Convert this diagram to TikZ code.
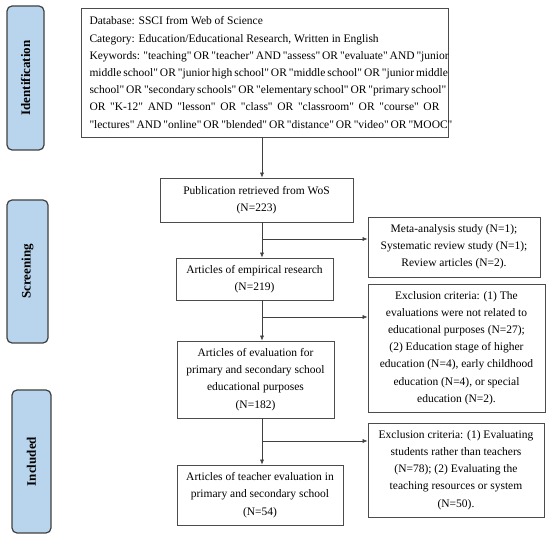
\documentclass[tikz,border=0pt]{standalone}
\usepackage{fontspec}
\setmainfont{Liberation Serif}[Ligatures=TeXOff]
\usetikzlibrary{positioning,arrows.meta}
\definecolor{stageblue}{RGB}{184,213,237}
\newcommand{\jline}[1]{\makebox[350pt][s]{#1}}

\begin{document}
\begin{tikzpicture}[x=1pt, y=-1pt,
    box/.style={draw=black!70, line width=0.7pt, align=center, inner sep=0pt,
        font=\fontsize{11.5}{17.2}\selectfont},
    stage/.style={draw=black!75, line width=1.2pt, fill=stageblue, rounded corners=5pt,
        rotate=90, font=\fontsize{13}{15}\selectfont\bfseries},
    arr/.style={-{Latex[length=5pt,width=4pt]}, draw=black!75, line width=0.6pt}]
    \useasboundingbox (0,0) rectangle (550,540);

    % stages
    \node [stage, minimum width=144pt, minimum height=37pt] (ident) at (25.5,78) {Identification};
    \node [stage, minimum width=143pt, minimum height=41pt] (screen) at (27.5,271.5) {Screening};
    \node [stage, minimum width=143pt, minimum height=39pt] (incl) at (31.5,461.5) {Included};

    % main column
    \node [box, align=left, minimum width=367pt, minimum height=129pt] (search) at (264.5,72.5) {%
        Database: SSCI from Web of Science\\
        Category: Education/Educational Research, Written in English\\
        \jline{Keywords: "teaching" OR "teacher" AND "assess" OR "evaluate" AND "junior}\\
        \jline{middle school" OR "junior high school" OR "middle school" OR "junior middle}\\
        \jline{school" OR "secondary schools" OR "elementary school" OR "primary school"}\\
        \jline{OR "K-12" AND "lesson" OR "class" OR "classroom" OR "course" OR}\\
        \jline{"lectures" AND "online" OR "blended" OR "distance" OR "video" OR "MOOC"}};
    \node [box, minimum width=193pt, minimum height=44pt] (pub) at (256.5,200) {Publication retrieved from WoS\\(N=223)};
    \node [box, minimum width=157pt, minimum height=42pt] (emp) at (254.5,279) {Articles of empirical research\\(N=219)};
    \node [box, minimum width=157pt, minimum height=77pt] (eval) at (255.5,379.5) {Articles of evaluation for\\primary and secondary school\\educational purposes\\(N=182)};
    \node [box, minimum width=166pt, minimum height=60pt] (final) at (260,495) {Articles of teacher evaluation in\\primary and secondary school\\(N=54)};

    % exclusions
    \node [box, minimum width=172pt, minimum height=60pt] (meta) at (454,247) {Meta-analysis study (N=1);\\Systematic review study (N=1);\\Review articles (N=2).};
    \node [box, minimum width=177pt, minimum height=128pt] (excl1) at (456.5,348) {Exclusion criteria: (1) The\\evaluations were not related to\\educational purposes (N=27);\\(2) Education stage of higher\\education (N=4), early childhood\\education (N=4), or special\\education (N=2).};
    \node [box, minimum width=176pt, minimum height=94pt] (excl2) at (456,470) {Exclusion criteria: (1) Evaluating\\students rather than teachers\\(N=78); (2) Evaluating the\\teaching resources or system\\(N=50).};

    % arrows
    \coordinate (spine) at (262,0);
    \coordinate (b1) at (262,239);
    \coordinate (b2) at (262,317);
    \coordinate (b3) at (262,441);
    \draw [arr] (search.south -| spine) -- (pub.north -| spine);
    \draw [arr] (pub.south -| spine) -- (emp.north -| spine);
    \draw [arr] (emp.south -| spine) -- (eval.north -| spine);
    \draw [arr] (eval.south -| spine) -- (final.north -| spine);
    \draw [arr] (b1) -- (b1 -| meta.west);
    \draw [arr] (b2) -- (b2 -| excl1.west);
    \draw [arr] (b3) -- (b3 -| excl2.west);
\end{tikzpicture}
\end{document}
